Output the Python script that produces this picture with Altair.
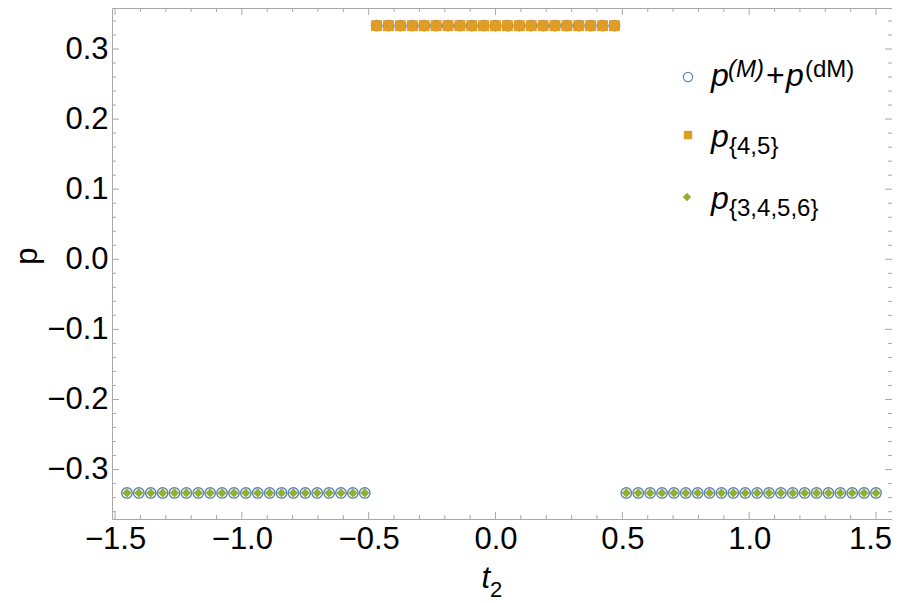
import altair as alt
import pandas as pd

# ---------------- data ----------------
t_left = [-1.453125, -1.40625, -1.359375, -1.3125, -1.265625, -1.21875, -1.171875,
          -1.125, -1.078125, -1.03125, -0.984375, -0.9375, -0.890625, -0.84375,
          -0.796875, -0.75, -0.703125, -0.65625, -0.609375, -0.5625, -0.515625]
t_mid = [-0.46875, -0.421875, -0.375, -0.328125, -0.28125, -0.234375, -0.1875,
         -0.140625, -0.09375, -0.046875, 0.0, 0.046875, 0.09375, 0.140625,
         0.1875, 0.234375, 0.28125, 0.328125, 0.375, 0.421875, 0.46875]
t_right = [0.515625, 0.5625, 0.609375, 0.65625, 0.703125, 0.75, 0.796875,
           0.84375, 0.890625, 0.9375, 0.984375, 1.03125, 1.078125, 1.125,
           1.171875, 1.21875, 1.265625, 1.3125, 1.359375, 1.40625, 1.453125, 1.5]

p_left = [-0.3333] * len(t_left)
p_mid = [0.3333] * len(t_mid)
p_right = [-0.3333] * len(t_right)

x_major = [-1.5, -1.0, -0.5, 0.0, 0.5, 1.0, 1.5]
x_minor = [-1.4, -1.3, -1.2, -1.1, -0.9, -0.8, -0.7, -0.6, -0.4, -0.3, -0.2, -0.1,
           0.1, 0.2, 0.3, 0.4, 0.6, 0.7, 0.8, 0.9, 1.1, 1.2, 1.3, 1.4]
y_major = [-0.3, -0.2, -0.1, 0.0, 0.1, 0.2, 0.3]
y_minor = [-0.36, -0.34, -0.32, -0.28, -0.26, -0.24, -0.22, -0.18, -0.16, -0.14,
           -0.12, -0.08, -0.06, -0.04, -0.02, 0.02, 0.04, 0.06, 0.08, 0.12, 0.14,
           0.16, 0.18, 0.22, 0.24, 0.26, 0.28, 0.32, 0.34]

BLUE, ORANGE, GREEN = "#5E81B5", "#E19C24", "#8FB032"
FRAME = "#a8a8a8"
FONT = "Liberation Sans"

df_total = pd.DataFrame({"t": t_left + t_mid + t_right, "p": p_left + p_mid + p_right})
df_45 = pd.DataFrame({"t": t_mid, "p": p_mid})
df_3456 = pd.DataFrame({"t": t_left + t_right, "p": p_left + p_right})

W, H = 780, 511
OX, OY = 112, 8  # page position of plot origin

xs = alt.Scale(domain=[-1.512, 1.563], nice=False, zero=False)
ys = alt.Scale(domain=[-0.3705, 0.3585], nice=False, zero=False)

x_axis = alt.Axis(values=x_major, format=".1f", ticks=False, domain=False, grid=False,
                  labelFontSize=31, labelFont=FONT, labelColor="black", labelPadding=5,
                  labelOffset={"condition": {"test": "datum.value >= 1.5", "value": -6},
                               "value": 0},
                  title=None)
y_axis = alt.Axis(values=y_major, format=".1f", ticks=False, domain=False, grid=False,
                  labelFontSize=31, labelFont=FONT, labelColor="black", labelPadding=4,
                  title="p", titleFont=FONT, titleFontSize=31, titleFontWeight="normal",
                  titleColor="black", titleAngle=-90, titleX=-76, titleY=H / 2 - 8,
                  titleBaseline="alphabetic", titleAlign="center")


def X(field):
    return alt.X(field, scale=xs, axis=x_axis, title=None)


def Y(field):
    return alt.Y(field, scale=ys, axis=y_axis, title="p")


circles = alt.Chart(df_total).mark_point(
    shape="circle", filled=False, size=110, strokeWidth=1.4, color=BLUE, opacity=1
).encode(x=X("t:Q"), y=Y("p:Q"))

squares = alt.Chart(df_45).mark_point(
    shape="square", filled=True, size=118, color=ORANGE, opacity=1
).encode(x=X("t:Q"), y=Y("p:Q"))

diamonds = alt.Chart(df_3456).mark_point(
    shape="diamond", filled=True, size=88, color=GREEN, opacity=1
).encode(x=X("t:Q"), y=Y("p:Q"))


def xticks(vals, length, top):
    d = pd.DataFrame({"t": vals})
    if top:
        yy, yy2 = alt.value(0), alt.value(length)
    else:
        yy, yy2 = alt.value(H), alt.value(H - length)
    return alt.Chart(d).mark_rule(color=FRAME, strokeWidth=1).encode(
        x=X("t:Q"), y=yy, y2=yy2)


def yticks(vals, length, right):
    d = pd.DataFrame({"p": vals})
    if right:
        xx, xx2 = alt.value(W), alt.value(W - length)
    else:
        xx, xx2 = alt.value(0), alt.value(length)
    return alt.Chart(d).mark_rule(color=FRAME, strokeWidth=1).encode(
        y=Y("p:Q"), x=xx, x2=xx2)


ticks = [
    xticks(x_major, 7, False), xticks(x_minor, 4, False),
    xticks(x_major, 7, True), xticks(x_minor, 4, True),
    yticks(y_major, 7, False), yticks(y_minor, 4, False),
    yticks(y_major, 7, True), yticks(y_minor, 4, True),
]

one = pd.DataFrame({"a": [0]})


def txt(s, px, py, size, italic=False, align="left"):
    return alt.Chart(one).mark_text(
        text=s, font=FONT, fontSize=size, fontStyle="italic" if italic else "normal",
        align=align, baseline="alphabetic", color="black"
    ).encode(x=alt.value(px - OX), y=alt.value(py - OY))


def sym(shape, px, py, size, filled, color, sw=1.2):
    return alt.Chart(one).mark_point(
        shape=shape, filled=filled, size=size, color=color, opacity=1, strokeWidth=sw
    ).encode(x=alt.value(px - OX), y=alt.value(py - OY))


legend = [
    sym("circle", 688, 77, 85, False, BLUE),
    txt("p", 711, 86, 32, True),
    txt("(M)", 728, 77, 24, True),
    txt("+", 766, 86, 32),
    txt("p", 786, 86, 32, True),
    txt("(dM)", 805, 77, 24),
    sym("square", 688, 135, 70, True, ORANGE),
    txt("p", 711, 147, 32, True),
    txt("{4,5}", 729, 154, 24),
    sym("diamond", 687, 197, 70, True, GREEN),
    txt("p", 711, 209, 32, True),
    txt("{3,4,5,6}", 729, 216, 24),
]

xtitle = [
    txt("t", 490, 588, 31, True, align="right"),
    txt("2", 490, 597, 22),
]

chart = alt.layer(circles, squares, diamonds, *ticks, *legend, *xtitle).properties(
    width=W, height=H, autosize="none",
    padding={"left": OX - 8, "top": OY - 8, "right": 0, "bottom": 84},
    background="white",
).configure_view(stroke=FRAME, strokeWidth=1)

chart.save("out.html", embed_options={"renderer": "svg", "actions": False})
